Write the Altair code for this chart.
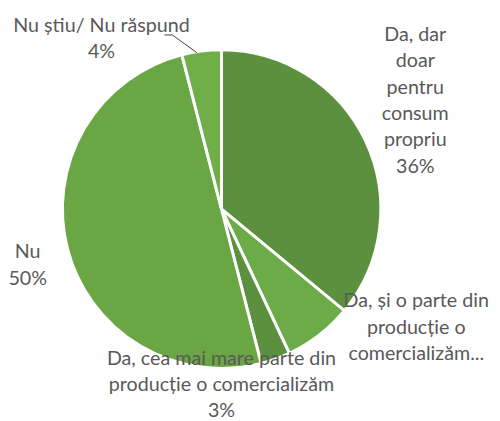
import altair as alt
import pandas as pd

# ---- data ----
categories = [
    "Da, dar doar pentru consum propriu",
    "Da, și o parte din producție o comercializăm",
    "Da, cea mai mare parte din producție o comercializăm",
    "Nu",
    "Nu știu/ Nu răspund",
]
values = [36, 7, 3, 50, 4]
colors = ["#5B903E", "#6CAC48", "#5B903E", "#6AA644", "#70AE4A"]

df = pd.DataFrame({"cat": categories, "val": values, "ord": list(range(len(values)))})

# ---- layout (chart pixel coordinates; page offset is 8px) ----
OFF = 8
CX, CY, R = 225 - OFF, 209 - OFF, 162
FONT = "Lato"
FS = 20
TXT = "#595959"

label_lines = [
    (["Da, dar", "doar", "pentru", "consum", "propriu", "36%"], 422, 32),
    (["Da, și o parte din", "producție o", "comercializăm..."], 423, 303),
    (["Da, cea mai mare parte din", "producție o comercializăm", "3%"], 225, 361),
    (["Nu", "50%"], 28, 253),
    (["Nu știu/ Nu răspund", "4%"], 103, 23),
]
LINE_H = 26.8

pie = alt.Chart(df).mark_arc(radius=R, stroke="white", strokeWidth=3).encode(
    theta=alt.Theta("val:Q", stack=True),
    order=alt.Order("ord:Q"),
    color=alt.Color("cat:N", scale=alt.Scale(domain=categories, range=colors), legend=None),
    x=alt.value(CX),
    y=alt.value(CY),
)

rows = []
for lines, x, y in label_lines:
    for i, t in enumerate(lines):
        rows.append({"t": t, "x": x - OFF, "y": y - OFF + i * LINE_H})
lab_df = pd.DataFrame(rows)

labels = alt.Chart(lab_df).mark_text(
    font=FONT, fontSize=FS, color=TXT, align="center", baseline="middle"
).encode(
    x=alt.X("x:Q", scale=None, axis=None),
    y=alt.Y("y:Q", scale=None, axis=None),
    text="t:N",
)

leader_df = pd.DataFrame({"x": [167 - OFF, 175 - OFF, 200 - OFF], "y": [32 - OFF, 32 - OFF, 50 - OFF], "o": [0, 1, 2]})
leader = alt.Chart(leader_df).mark_line(color="#404040", strokeWidth=1).encode(
    x=alt.X("x:Q", scale=None, axis=None),
    y=alt.Y("y:Q", scale=None, axis=None),
    order="o:Q",
)

chart = alt.layer(pie, leader, labels).properties(
    width=492, height=413, padding=0, autosize="none"
).configure_view(stroke=None)

chart.save("out.html", embed_options={"renderer": "svg", "actions": False})
